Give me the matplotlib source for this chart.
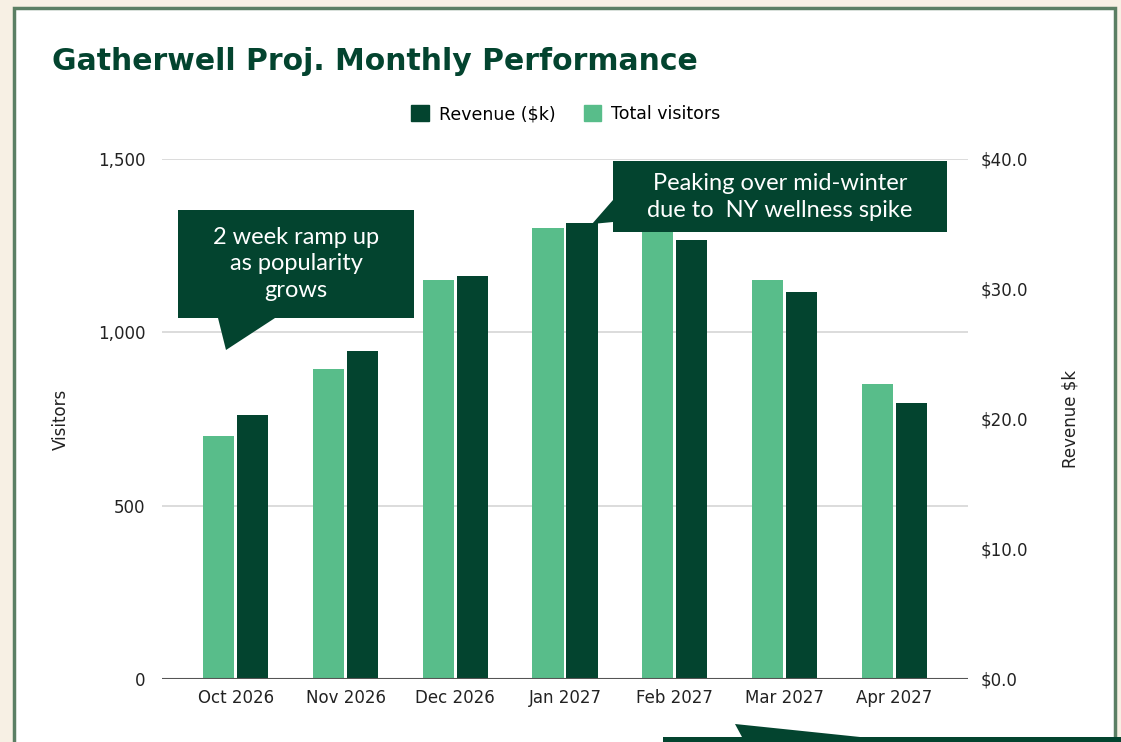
import matplotlib.pyplot as plt
from matplotlib.patches import Rectangle, Polygon
from matplotlib.ticker import FuncFormatter
import numpy as np

# datos
meses = ["Oct 2026", "Nov 2026", "Dec 2026", "Jan 2027", "Feb 2027", "Mar 2027", "Apr 2027"]
visitantes = [700, 895, 1150, 1300, 1400, 1150, 850]
ingresos = [20.3, 25.2, 31.0, 35.1, 33.8, 29.8, 21.2]

oscuro = "#03442f"
claro = "#58bd8a"
crema = "#f7f0e4"
W, H = 1121, 742

fig = plt.figure(figsize=(W / 100, H / 100), dpi=100, facecolor=crema)


def px(x, y):
    # pixeles (origen arriba a la izquierda) -> fraccion de figura
    return (x / W, 1 - y / H)


# panel blanco con borde verde
fig.patches.append(Rectangle(px(14, 800), 1101 / W, 792 / H, transform=fig.transFigure,
                             facecolor="white", edgecolor="#5b7f64", linewidth=2.5, zorder=-10))

ax = fig.add_axes([162 / W, 1 - 679 / H, 806 / W, 520 / H])
ax.set_facecolor("none")
ax2 = ax.twinx()
ax2.set_facecolor("none")

x = np.arange(len(meses))
ancho = 0.285
ax.bar(x - 0.155, visitantes, ancho, color=claro, zorder=3)
ax2.bar(x + 0.155, ingresos, ancho, color=oscuro, zorder=3)

ax.set_xlim(-0.673, 6.673)
ax.set_ylim(0, 1500)
ax2.set_ylim(0, 40)
ax.set_yticks([0, 500, 1000, 1500])
ax2.set_yticks([0, 10, 20, 30, 40])
ax.yaxis.set_major_formatter(FuncFormatter(lambda v, p: f"{int(v):,}"))
ax2.yaxis.set_major_formatter(FuncFormatter(lambda v, p: f"${v:.1f}"))
ax.set_xticks(x)
ax.set_xticklabels(meses)

for a in (ax, ax2):
    for s in a.spines.values():
        s.set_visible(False)
    a.tick_params(length=0, labelsize=12, colors="#222222")
ax.tick_params(axis="y", pad=12)
ax2.tick_params(axis="y", pad=9)
ax.tick_params(axis="x", pad=7)
ax.set_axisbelow(True)
ax.grid(axis="y", color="#d6d6d6", linewidth=1.2, zorder=0)
ax2.axhline(0, color="#555555", linewidth=1.5, zorder=4)

ax.set_ylabel("Visitors", fontsize=12, color="#222222", labelpad=20)
ax2.set_ylabel("Revenue $k", fontsize=12, color="#222222", labelpad=24)

# titulo
fig.text(*px(52, 62), "Gatherwell Proj. Monthly Performance", fontsize=21.5, fontweight="bold",
         color=oscuro, va="center", ha="left")

# leyenda
h1 = Rectangle((0, 0), 1, 1, color=oscuro)
h2 = Rectangle((0, 0), 1, 1, color=claro)
fig.legend([h1, h2], ["Revenue ($k)", "Total visitors"], loc="center", bbox_to_anchor=px(566, 114),
           ncol=2, frameon=False, fontsize=12.5, handlelength=1.0, handleheight=1.0,
           handletextpad=0.6, columnspacing=1.6)


# globos de texto
def globo(puntos, texto=None, centro=None):
    pts = [px(a, b) for a, b in puntos]
    fig.patches.append(Polygon(pts, closed=True, transform=fig.transFigure,
                               facecolor=oscuro, edgecolor="none", zorder=10))
    if texto:
        fig.text(*px(*centro), texto, color="white", fontsize=17, family="Lato",
                 ha="center", va="center", linespacing=1.35, zorder=11)


globo([(178, 210), (414, 210), (414, 318), (275, 318), (226, 350), (218, 318), (178, 318)],
      "2 week ramp up\nas popularity\ngrows", (296, 264))
globo([(613, 161), (947, 161), (947, 232), (613, 232), (613, 222), (592, 224), (613, 200)],
      "Peaking over mid-winter\ndue to  NY wellness spike", (780, 197))
globo([(663, 737), (742, 737), (735, 724), (860, 737), (1121, 737), (1121, 760), (663, 760)])

fig.savefig("out.png", dpi=100, facecolor=crema)
